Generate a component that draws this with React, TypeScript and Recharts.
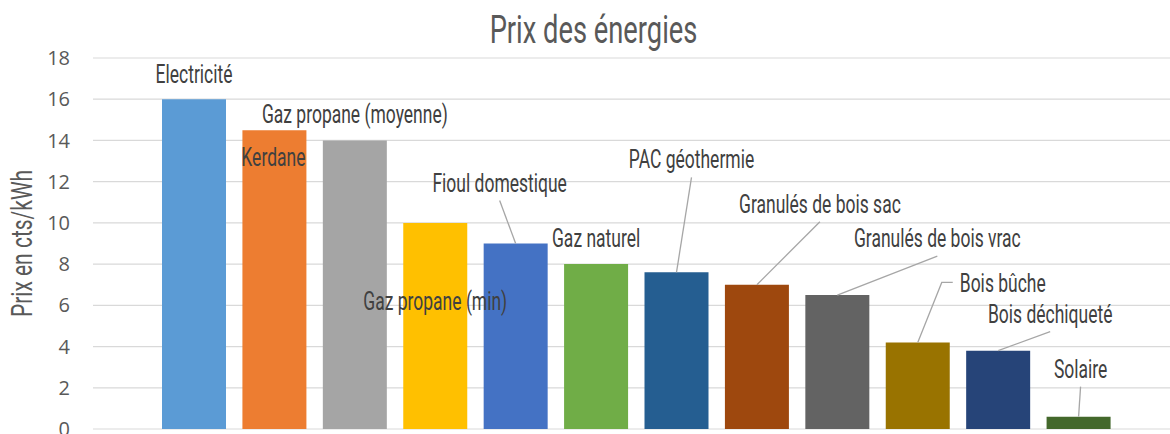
import { BarChart, Bar, XAxis, YAxis, CartesianGrid, Cell, LabelList } from 'recharts';

const CATEGORIES = [
  'Electricité',
  'Kerdane',
  'Gaz propane (moyenne)',
  'Gaz propane (min)',
  'Fioul domestique',
  'Gaz naturel',
  'PAC géothermie',
  'Granulés de bois sac',
  'Granulés de bois vrac',
  'Bois bûche',
  'Bois déchiqueté',
  'Solaire',
];
const PRICES = [16, 14.5, 14, 10, 9, 8, 7.6, 7, 6.5, 4.2, 3.8, 0.6];
const Y_TICKS = [0, 2, 4, 6, 8, 10, 12, 14, 16, 18];

const COLORS = ['#5B9BD5', '#ED7D31', '#A5A5A5', '#FFC000', '#4472C4', '#70AD47', '#255E91', '#9E480E', '#636363', '#997300', '#264478', '#43682B'];

// where each data label sits, relative to the top centre of its bar
const LABEL_LAYOUT = [
  { dx: 0, dy: -16, leader: '' },
  { dx: -1, dy: 36, leader: '' },
  { dx: 0, dy: -17, leader: '' },
  { dx: 0, dy: 87, leader: '' },
  { dx: -16, dy: -52, leader: 'below' },
  { dx: 0, dy: -17, leader: '' },
  { dx: 15, dy: -104, leader: 'below' },
  { dx: 63, dy: -72, leader: 'below' },
  { dx: 100, dy: -48, leader: 'below' },
  { dx: 85, dy: -50, leader: 'left' },
  { dx: 52, dy: -28, leader: 'below' },
  { dx: 2, dy: -39, leader: 'below' },
];

// no condensed font installed, so squeeze a regular one horizontally
const FONT = 'Roboto, sans-serif';
const SQUEEZE = 0.7;

const NarrowText = ({ x, y, size, fill, children, rotate = 0 }: any) => (
  <g transform={`translate(${x}, ${y}) rotate(${rotate}) scale(${SQUEEZE}, 1)`}>
    <text x={0} y={0} textAnchor="middle" fontFamily={FONT} fontSize={size} fill={fill}>
      {children}
    </text>
  </g>
);

const data = CATEGORIES.map((name, i) => ({ name, price: PRICES[i] }));

const BarLabel = (props: any) => {
  const vb = props.viewBox || {};
  const x = props.x ?? vb.x;
  const y = props.y ?? vb.y;
  const width = props.width ?? vb.width;
  const layout = LABEL_LAYOUT[props.index];
  if (!layout) return null;
  const cx = x + width / 2;
  const lx = cx + layout.dx;
  const ly = y + layout.dy;
  let leader = null;
  if (layout.leader === 'below') {
    leader = <polyline points={`${lx},${ly + 9} ${cx},${y}`} fill="none" stroke="#A6A6A6" strokeWidth={1.3} />;
  } else if (layout.leader === 'left') {
    leader = <polyline points={`${lx - 50},${ly - 10} ${lx - 61},${ly - 10} ${cx},${y}`} fill="none" stroke="#A6A6A6" strokeWidth={1.3} />;
  }
  return (
    <g>
      {leader}
      <NarrowText x={lx} y={ly} size={25} fill="#404040">
        {props.value}
      </NarrowText>
    </g>
  );
};

export default function App() {
  return (
    <div style={{ position: 'absolute', left: 0, top: 0, width: 1170, height: 434, background: '#fff' }}>
      <BarChart width={1170} height={434} data={data} margin={{ top: 58, right: 0, bottom: 5, left: 0 }}>
        <CartesianGrid vertical={false} stroke="#D9D9D9" strokeWidth={1.2} />
        <XAxis dataKey="name" hide padding={{ left: 61, right: 51 }} />
        <YAxis
          width={93}
          domain={[0, 18]}
          ticks={Y_TICKS}
          interval={0}
          axisLine={false}
          tickLine={false}
          tickSize={0}
          tickMargin={23}
          tick={{ fill: '#595959', fontSize: 20, fontFamily: "'Open Sans', sans-serif" }}
          label={{
            content: (p: any) => {
              const vb = p.viewBox || {};
              const cy = vb.y + vb.height / 2;
              return (
                <NarrowText x={32} y={cy} rotate={-90} size={30} fill="#595959">
                  Prix en cts/kWh
                </NarrowText>
              );
            },
          }}
        />
        <Bar dataKey="price" barSize={64} isAnimationActive={false}>
          {data.map((d, i) => (
            <Cell key={d.name} fill={COLORS[i]} />
          ))}
          <LabelList dataKey="name" content={BarLabel} />
        </Bar>
      </BarChart>
      <svg style={{ position: 'absolute', left: 0, top: 0 }} width={1170} height={58}>
        <NarrowText x={593.5} y={43} size={39} fill="#595959">
          Prix des énergies
        </NarrowText>
      </svg>
    </div>
  );
}
